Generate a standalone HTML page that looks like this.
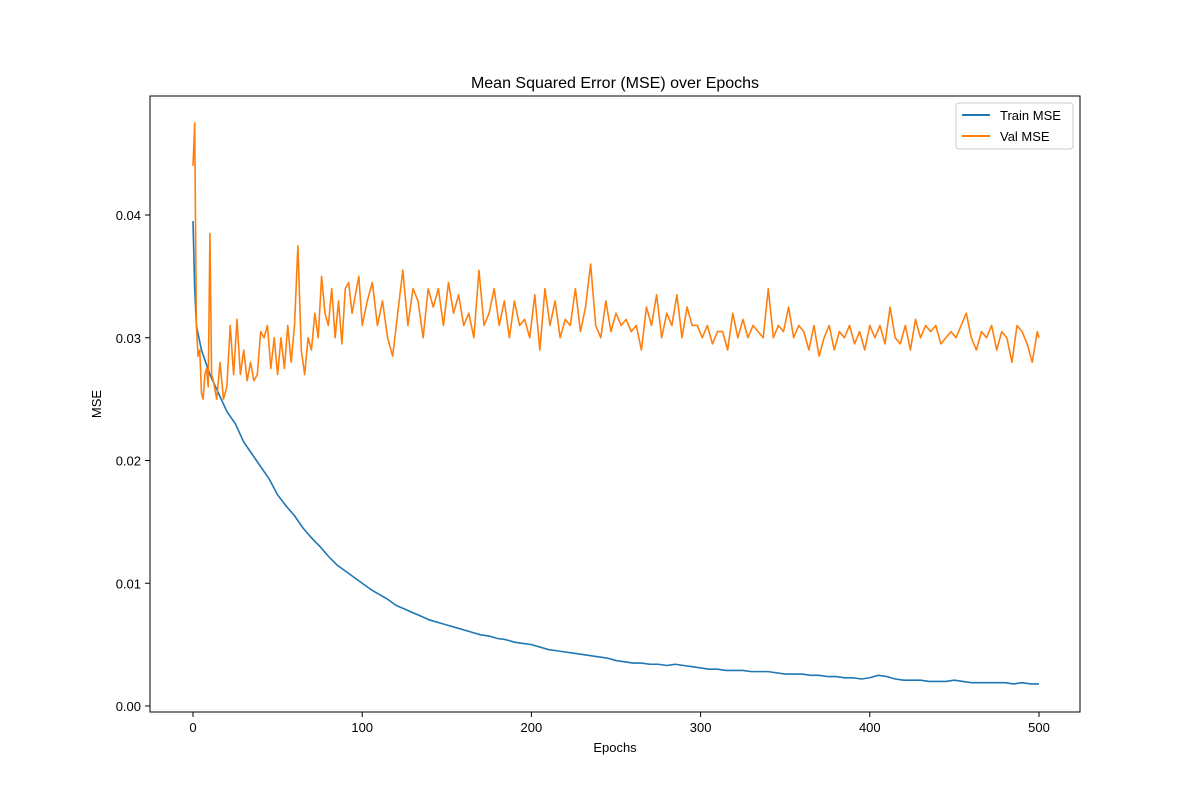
<!DOCTYPE html>
<html><head><meta charset="utf-8"><style>
html,body{margin:0;padding:0;background:#fff;}
svg{display:block;font-family:"Liberation Sans","DejaVu Sans",sans-serif;}
</style></head><body>
<svg id="chart" width="1200" height="800">
<rect x="0" y="0" width="1200" height="800" fill="#fff"/>
<text x="615" y="88" text-anchor="middle" font-size="16">Mean Squared Error (MSE) over Epochs</text>
<text x="615" y="752" text-anchor="middle" font-size="13">Epochs</text>
<text x="101" y="404" text-anchor="middle" font-size="13" transform="rotate(-90 101 404)">MSE</text>
<g id="ticks"></g>
<g id="series"></g>
<rect x="150" y="96" width="930" height="616" fill="none" stroke="#000" stroke-width="1"/>
<g>
<rect x="956" y="103" width="117" height="46" rx="3" fill="#fff" fill-opacity="0.8" stroke="#ccc"/>
<line x1="962" y1="115" x2="990" y2="115" stroke="#1f77b4" stroke-width="2"/>
<text x="1000" y="120" font-size="13">Train MSE</text>
<line x1="962" y1="136" x2="990" y2="136" stroke="#ff7f0e" stroke-width="2"/>
<text x="1000" y="141" font-size="13">Val MSE</text>
</g>
</svg>
<script>
const xTicks = [0,100,200,300,400,500];
const yTicks = [0.00,0.01,0.02,0.03,0.04];
const yTickLabels = ["0.00","0.01","0.02","0.03","0.04"];
const trainEpochs = [0,1,2,5,10,15,20,25,30,35,40,45,50,55,60,65,70,75,80,85,90,95,100,105,110,115,120,125,130,135,140,145,150,155,160,165,170,175,180,185,190,195,200,205,210,215,220,225,230,235,240,245,250,255,260,265,270,275,280,285,290,295,300,305,310,315,320,325,330,335,340,345,350,355,360,365,370,375,380,385,390,395,400,405,410,415,420,425,430,435,440,445,450,455,460,465,470,475,480,485,490,495,500];
const trainMSE = [0.0395,0.034,0.031,0.029,0.027,0.0255,0.024,0.023,0.0215,0.0205,0.0195,0.0185,0.0172,0.0163,0.0155,0.0145,0.0137,0.013,0.0122,0.0115,0.011,0.0105,0.0100,0.0095,0.0091,0.0087,0.0082,0.0079,0.0076,0.0073,0.0070,0.0068,0.0066,0.0064,0.0062,0.0060,0.0058,0.0057,0.0055,0.0054,0.0052,0.0051,0.0050,0.0048,0.0046,0.0045,0.0044,0.0043,0.0042,0.0041,0.0040,0.0039,0.0037,0.0036,0.0035,0.0035,0.0034,0.0034,0.0033,0.0034,0.0033,0.0032,0.0031,0.0030,0.0030,0.0029,0.0029,0.0029,0.0028,0.0028,0.0028,0.0027,0.0026,0.0026,0.0026,0.0025,0.0025,0.0024,0.0024,0.0023,0.0023,0.0022,0.0023,0.0025,0.0024,0.0022,0.0021,0.0021,0.0021,0.0020,0.0020,0.0020,0.0021,0.0020,0.0019,0.0019,0.0019,0.0019,0.0019,0.0018,0.0019,0.0018,0.0018];
const valEpochs = [0,1,2,3,4,5,6,7,8,9,10,11,12,14,16,18,20,22,24,26,28,30,32,34,36,38,40,42,44,46,48,50,52,54,56,58,60,62,64,66,68,70,72,74,76,78,80,82,84,86,88,90,92,94,96,98,100,103,106,109,112,115,118,121,124,127,130,133,136,139,142,145,148,151,154,157,160,163,166,169,172,175,178,181,184,187,190,193,196,199,202,205,208,211,214,217,220,223,226,229,232,235,238,241,244,247,250,253,256,259,262,265,268,271,274,277,280,283,286,289,292,295,298,301,304,307,310,313,316,319,322,325,328,331,334,337,340,343,346,349,352,355,358,361,364,367,370,373,376,379,382,385,388,391,394,397,400,403,406,409,412,415,418,421,424,427,430,433,436,439,442,445,448,451,454,457,460,463,466,469,472,475,478,481,484,487,490,493,496,499,500];
const valMSE = [0.044,0.0475,0.031,0.0285,0.029,0.0255,0.025,0.027,0.0275,0.026,0.0385,0.027,0.0265,0.025,0.028,0.025,0.026,0.031,0.027,0.0315,0.027,0.029,0.0265,0.028,0.0265,0.027,0.0305,0.030,0.031,0.0275,0.030,0.027,0.030,0.0275,0.031,0.028,0.031,0.0375,0.029,0.027,0.030,0.029,0.032,0.030,0.035,0.032,0.031,0.034,0.030,0.033,0.0295,0.034,0.0345,0.032,0.0335,0.035,0.031,0.033,0.0345,0.031,0.033,0.030,0.0285,0.032,0.0355,0.031,0.034,0.033,0.030,0.034,0.0325,0.034,0.031,0.0345,0.032,0.0335,0.031,0.032,0.030,0.0355,0.031,0.032,0.034,0.031,0.033,0.030,0.033,0.031,0.0315,0.030,0.0335,0.029,0.034,0.031,0.033,0.030,0.0315,0.031,0.034,0.0305,0.0325,0.036,0.031,0.030,0.033,0.0305,0.032,0.031,0.0315,0.0305,0.031,0.029,0.0325,0.031,0.0335,0.030,0.032,0.031,0.0335,0.030,0.0325,0.031,0.031,0.030,0.031,0.0295,0.0305,0.0305,0.029,0.032,0.030,0.0315,0.030,0.031,0.0305,0.030,0.034,0.030,0.031,0.0305,0.0325,0.030,0.031,0.0305,0.029,0.031,0.0285,0.030,0.031,0.029,0.0305,0.030,0.031,0.0295,0.0305,0.029,0.031,0.030,0.031,0.0295,0.0325,0.030,0.0295,0.031,0.029,0.0315,0.030,0.031,0.0305,0.031,0.0295,0.030,0.0305,0.030,0.031,0.032,0.030,0.029,0.0305,0.030,0.031,0.029,0.0305,0.030,0.028,0.031,0.0305,0.0295,0.028,0.0305,0.030];

const NS = "http://www.w3.org/2000/svg";
function xScale(e){ return 193 + (e - 0) * (1039 - 193) / 500; }
function yScale(v){ return 706 - v * (706 - 215) / 0.04; }

const tg = document.getElementById('ticks');
xTicks.forEach(function(t){
  const x = xScale(t);
  const l = document.createElementNS(NS,'line');
  l.setAttribute('x1',x); l.setAttribute('x2',x); l.setAttribute('y1',712); l.setAttribute('y2',717);
  l.setAttribute('stroke','#000');
  
  
  tg.appendChild(l);
  const tx = document.createElementNS(NS,'text');
  tx.setAttribute('x',x); tx.setAttribute('y',732); tx.setAttribute('text-anchor','middle'); tx.setAttribute('font-size','13');
  tx.textContent = String(t);
  
  
  tg.appendChild(tx);
});
yTicks.forEach(function(t,i){
  const y = yScale(t);
  const l = document.createElementNS(NS,'line');
  l.setAttribute('x1',145); l.setAttribute('x2',150); l.setAttribute('y1',y); l.setAttribute('y2',y);
  l.setAttribute('stroke','#000');
  
  
  tg.appendChild(l);
  const tx = document.createElementNS(NS,'text');
  tx.setAttribute('x',141); tx.setAttribute('y',y+5); tx.setAttribute('text-anchor','end'); tx.setAttribute('font-size','13');
  tx.textContent = yTickLabels[i];
  
  
  tg.appendChild(tx);
});

const sg = document.getElementById('series');
function drawLine(xs, ys, color, name){
  const p = document.createElementNS(NS,'polyline');
  p.setAttribute('points', xs.map(function(e,i){ return xScale(e).toFixed(2)+','+yScale(ys[i]).toFixed(2); }).join(' '));
  p.setAttribute('fill','none'); p.setAttribute('stroke',color); p.setAttribute('stroke-width','1.6');
  p.setAttribute('stroke-linejoin','round');
  
  
  sg.appendChild(p);
}
drawLine(trainEpochs, trainMSE, '#1f77b4', 'train-mse-line');
drawLine(valEpochs, valMSE, '#ff7f0e', 'val-mse-line');
</script>
</body></html>
